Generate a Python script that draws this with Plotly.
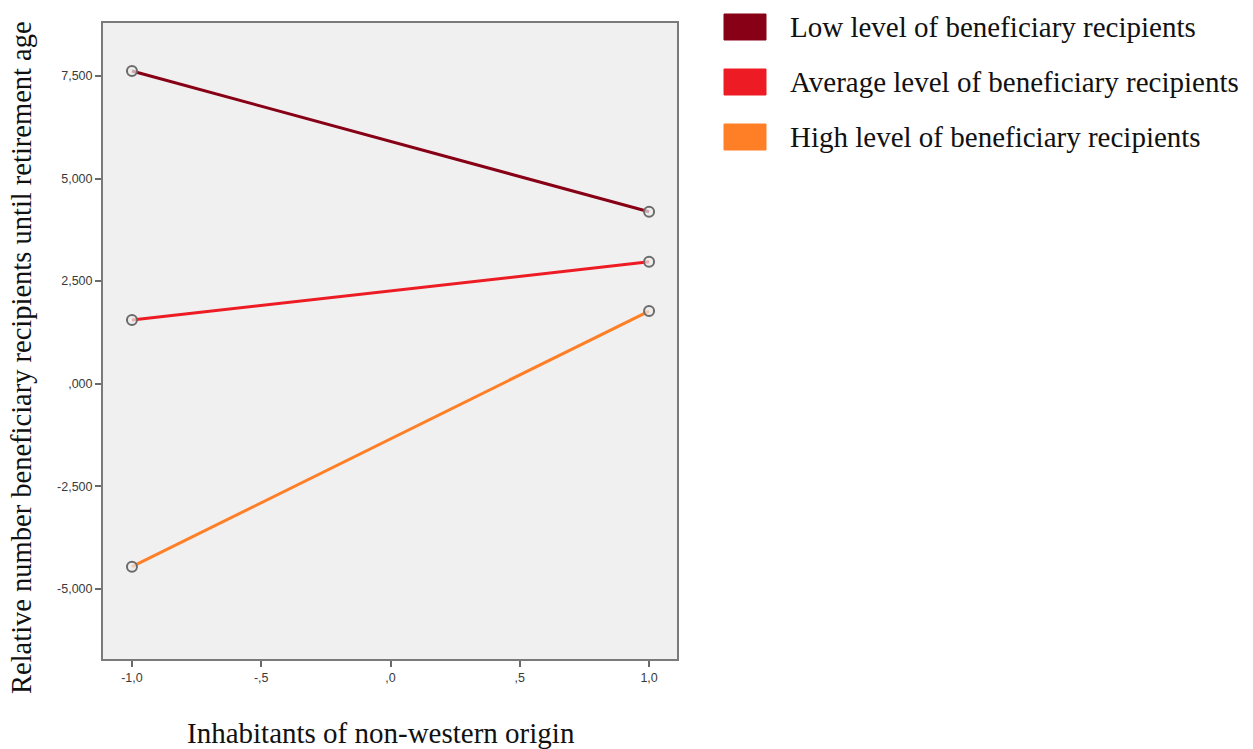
import plotly.graph_objects as go

# Predictor values (centred, -1 SD and +1 SD)
x_vals = [-1.0, 1.0]

series_names = [
    "Low level of beneficiary recipients",
    "Average level of beneficiary recipients",
    "High level of beneficiary recipients",
]
low_vals = [7.62, 4.19]
avg_vals = [1.55, 2.97]
high_vals = [-4.46, 1.77]
series_vals = [low_vals, avg_vals, high_vals]
series_colors = ["#870016", "#ED1C24", "#FF7F27"]

x_tickvals = [-1.0, -0.5, 0.0, 0.5, 1.0]
x_ticktext = ["-1,0", "-,5", ",0", ",5", "1,0"]
y_tickvals = [7.5, 5.0, 2.5, 0.0, -2.5, -5.0]
y_ticktext = ["7,500", "5,000", "2,500", ",000", "-2,500", "-5,000"]

SERIF = "Liberation Serif, Times New Roman, serif"
SANS = "Liberation Sans, Arial, sans-serif"

# Plot area in pixels
L, R, T, B = 103, 677, 23, 659
W, H = 1253, 749
PW, PH = R - L, B - T


def px(xp):
    return (xp - L) / PW


def py(yp):
    return (B - yp) / PH


fig = go.Figure()
for name, vals, col in zip(series_names, series_vals, series_colors):
    fig.add_trace(go.Scatter(
        x=x_vals, y=vals, name=name, mode="lines+markers",
        line=dict(color=col, width=3),
        marker=dict(symbol="circle", size=10, color="rgba(235,235,235,0.7)",
                    line=dict(color="#6b6b6b", width=2)),
        showlegend=False,
    ))

axis_common = dict(
    showgrid=False, zeroline=False, showline=True, linecolor="#7a7a7a",
    linewidth=2, mirror=True, ticks="outside", ticklen=6, tickwidth=2,
    tickcolor="#6a6a6a", tickfont=dict(family=SANS, size=12.5, color="#3a3a3a"),
)

fig.update_layout(
    width=W, height=H,
    margin=dict(l=L, r=W - R, t=T, b=H - B),
    paper_bgcolor="white", plot_bgcolor="#F0F0F0",
    xaxis=dict(range=[-1.112, 1.108], tickvals=x_tickvals, ticktext=x_ticktext,
               **axis_common),
    yaxis=dict(range=[-6.71, 8.79], tickvals=y_tickvals, ticktext=y_ticktext,
               **axis_common),
)

# Axis titles
fig.add_annotation(
    text="Inhabitants of non-western origin", xref="paper", yref="paper",
    x=px(381), y=py(733), showarrow=False, xanchor="center", yanchor="middle",
    font=dict(family=SERIF, size=29, color="#111111"),
)
fig.add_annotation(
    text="Relative number beneficiary recipients until retirement age",
    xref="paper", yref="paper", x=px(22), y=py(358), textangle=-90,
    showarrow=False, xanchor="center", yanchor="middle",
    font=dict(family=SERIF, size=28.5, color="#111111"),
)

# Legend: colour swatches with labels to the right of the plot
legend_centres = [27, 82, 137]
for name, col, cy in zip(series_names, series_colors, legend_centres):
    fig.add_shape(
        type="rect", xref="paper", yref="paper",
        x0=px(724), x1=px(766), y0=py(cy - 13), y1=py(cy + 13),
        fillcolor=col, line=dict(color=col, width=1), layer="above",
    )
    fig.add_annotation(
        text=name, xref="paper", yref="paper",
        x=px(788), y=py(cy), showarrow=False, xanchor="left", yanchor="middle",
        font=dict(family=SERIF, size=29, color="#111111"),
    )

fig.write_html("out.html")
